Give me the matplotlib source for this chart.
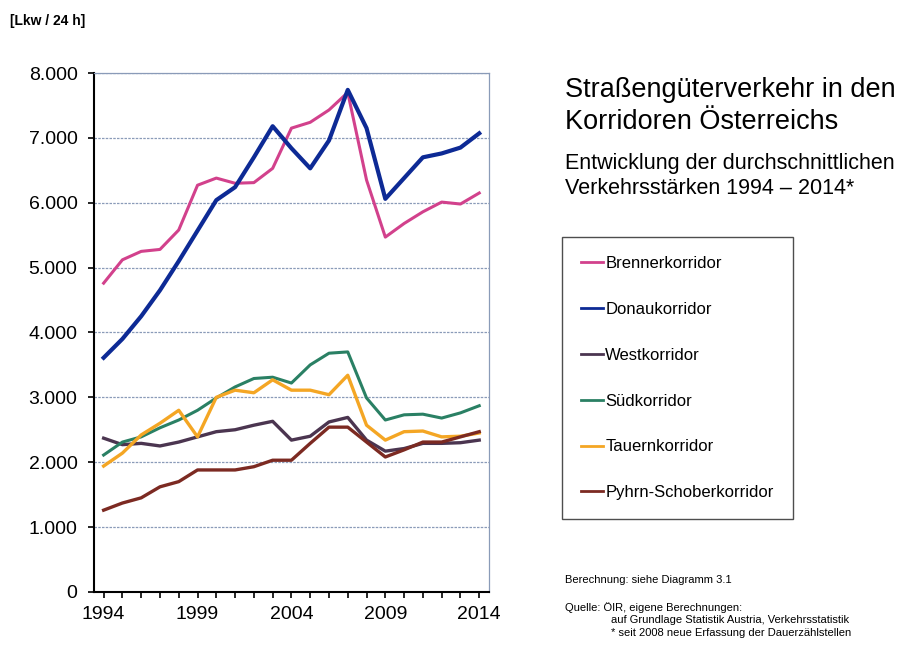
import matplotlib.pyplot as plt
from matplotlib.lines import Line2D
from matplotlib.ticker import FuncFormatter, MultipleLocator

plt.rcParams['font.family'] = ['Liberation Sans', 'DejaVu Sans']

years = list(range(1994, 2015))

brenner = [4760, 5120, 5250, 5280, 5580, 6270, 6380, 6300, 6310, 6530, 7150,
           7240, 7430, 7700, 6350, 5470, 5680, 5860, 6010, 5980, 6150]
donau = [3610, 3900, 4250, 4650, 5100, 5570, 6040, 6240, 6700, 7180, 6840,
         6530, 6960, 7740, 7150, 6060, 6380, 6700, 6760, 6850, 7070]
west = [2370, 2270, 2290, 2250, 2310, 2390, 2470, 2500, 2570, 2630, 2340,
        2400, 2620, 2690, 2340, 2170, 2210, 2290, 2290, 2300, 2340]
sued = [2110, 2310, 2390, 2530, 2650, 2800, 2990, 3160, 3290, 3310, 3220,
        3500, 3680, 3700, 2990, 2650, 2730, 2740, 2680, 2760, 2870]
tauern = [1940, 2140, 2420, 2600, 2800, 2390, 3000, 3110, 3070, 3270, 3110,
          3110, 3040, 3340, 2570, 2340, 2470, 2480, 2390, 2400, 2450]
pyhrn = [1260, 1370, 1450, 1620, 1700, 1880, 1880, 1880, 1930, 2030, 2030,
         2290, 2540, 2540, 2310, 2080, 2190, 2310, 2310, 2390, 2470]

names = ['Brennerkorridor', 'Donaukorridor', 'Westkorridor', 'Südkorridor',
         'Tauernkorridor', 'Pyhrn-Schoberkorridor']
series = [brenner, donau, west, sued, tauern, pyhrn]
colors = ['#d2418c', '#0d2a95', '#4b3550', '#2a8064', '#f4a624', '#7c2a22']
widths = [2.2, 3.0, 2.4, 2.2, 2.4, 2.4]

fig = plt.figure(figsize=(9.15, 6.49), dpi=100)
ax = fig.add_axes([0.103, 0.088, 0.431, 0.7995])

for vals, c, lw in zip(series, colors, widths):
    ax.plot(years, vals, color=c, lw=lw, solid_joinstyle='round')

ax.set_xlim(1993.5, 2014.5)
ax.set_ylim(0, 8000)
ax.yaxis.set_major_locator(MultipleLocator(1000))
ax.yaxis.set_major_formatter(FuncFormatter(lambda v, p: f'{int(v):,}'.replace(',', '.')))
ax.set_xticks([1994, 1999, 2004, 2009, 2014])
ax.xaxis.set_minor_locator(MultipleLocator(1))
ax.grid(axis='y', color='#8a9bb8', ls=(0, (2, 1)), lw=0.9)
ax.tick_params(labelsize=14, length=4, width=1.2, direction='out')
ax.tick_params(axis='x', which='minor', length=4, width=1.2)
ax.tick_params(axis='y', pad=8)
ax.tick_params(axis='x', pad=6)
for s in ['left', 'bottom']:
    ax.spines[s].set_linewidth(1.5)
for s in ['top', 'right']:
    ax.spines[s].set_color('#8a9bb8')
    ax.spines[s].set_linewidth(0.9)

fig.text(0.011, 0.967, '[Lkw / 24 h]', fontsize=10, fontweight='bold', va='center')

fig.text(0.617, 0.861, 'Straßengüterverkehr in den', fontsize=19.5, va='center')
fig.text(0.617, 0.812, 'Korridoren Österreichs', fontsize=19.5, va='center')
fig.text(0.617, 0.748, 'Entwicklung der durchschnittlichen', fontsize=15.5, va='center')
fig.text(0.617, 0.709, 'Verkehrsstärken 1994 – 2014*', fontsize=15.5, va='center')

handles = [Line2D([], [], color=c, lw=2.0) for c in colors]
leg = fig.legend(handles, names, loc='upper left', bbox_to_anchor=(0.614, 0.635),
                 frameon=True, fontsize=12, handlelength=1.3, handletextpad=0.15,
                 labelspacing=1.85, borderpad=1.15, borderaxespad=0, fancybox=False)
leg.get_frame().set_edgecolor('#222222')
leg.get_frame().set_linewidth(1.0)

fig.text(0.617, 0.106, 'Berechnung: siehe Diagramm 3.1', fontsize=8, va='center')
fig.text(0.617, 0.064, 'Quelle: ÖIR, eigene Berechnungen:', fontsize=8, va='center')
fig.text(0.668, 0.045, 'auf Grundlage Statistik Austria, Verkehrsstatistik', fontsize=8, va='center')
fig.text(0.668, 0.025, '* seit 2008 neue Erfassung der Dauerzählstellen', fontsize=8, va='center')

fig.savefig('out.png', dpi=100)
